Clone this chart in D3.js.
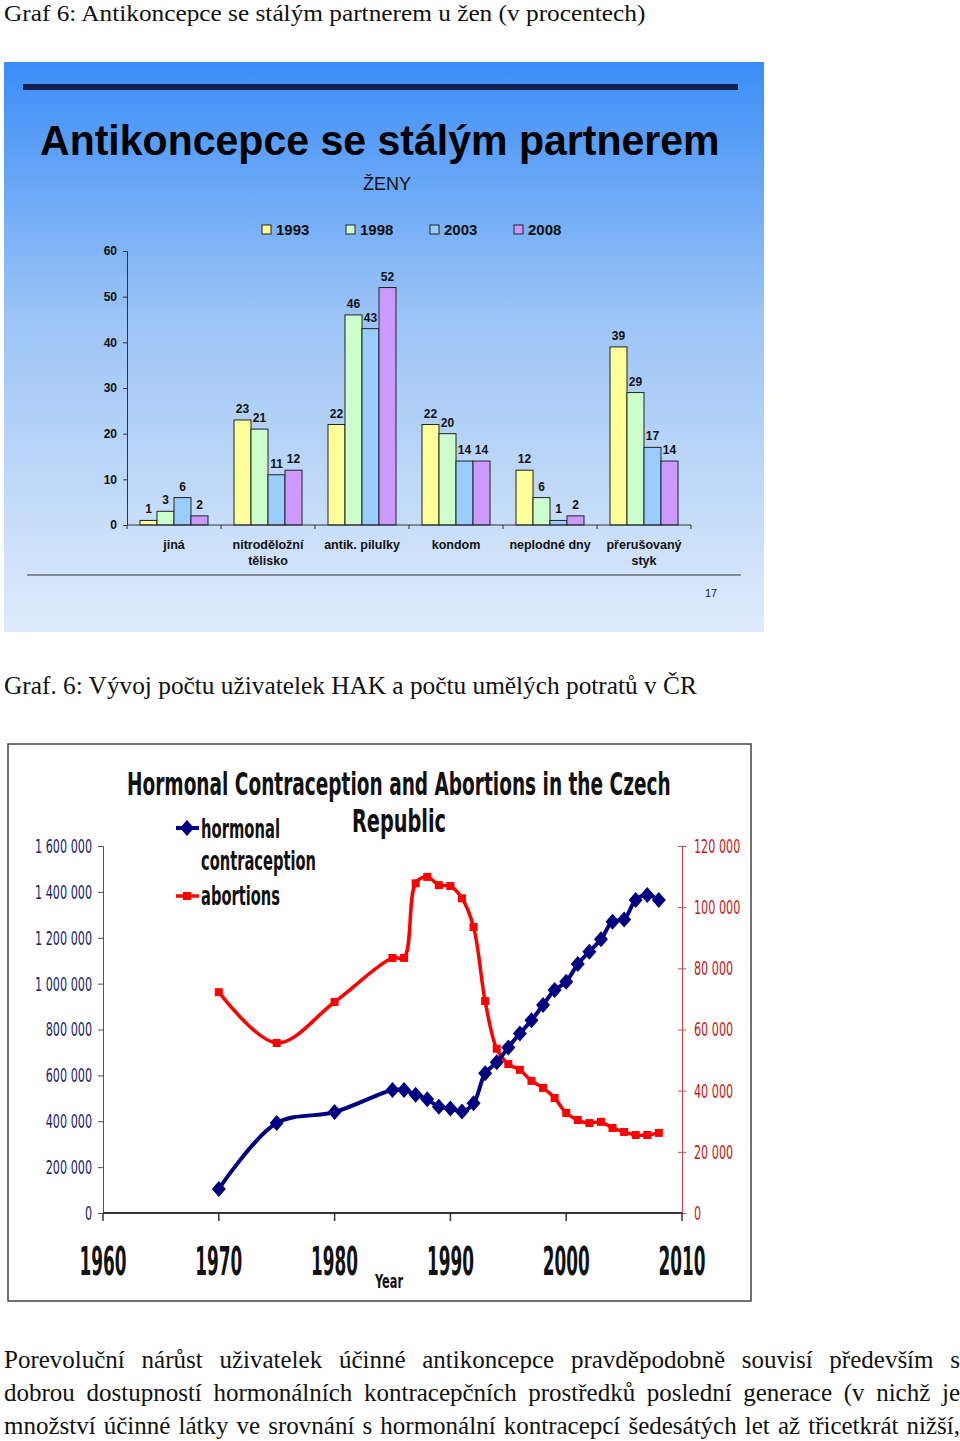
<!DOCTYPE html>
<html><head><meta charset="utf-8">
<script src="https://cdn.jsdelivr.net/npm/d3@7"></script>
<style>
body{margin:0;background:#fff;}
svg{display:block;}
</style></head><body>
<svg id="page" width="960" height="1441"></svg>
<script>
// ---------- Chart 1 data ----------
const categories = ["jiná","nitroděložní\ntělisko","antik. pilulky","kondom","neplodné dny","přerušovaný\nstyk"];
const surveyYears = ["1993","1998","2003","2008"];
const values1993 = [1,23,22,22,12,39];
const values1998 = [3,21,46,20,6,29];
const values2003 = [6,11,43,14,1,17];
const values2008 = [2,12,52,14,2,14];
const pctTicks = [0,10,20,30,40,50,60];
const barColors = ["#ffff99","#ccffcc","#99ccff","#cc99ff"];

// ---------- Chart 2 data ----------
const years = [1970,1975,1980,1985,1986,1987,1988,1989,1990,1991,1992,1993,1994,1995,1996,1997,1998,1999,2000,2001,2002,2003,2004,2005,2006,2007,2008];
const hormonal = [105000,392000,440000,536000,536000,515000,496000,463000,456000,442000,478000,609000,657000,722000,783000,840000,907000,972000,1008000,1086000,1139000,1193000,1270000,1280000,1365000,1386000,1365000];
const abortions = [72200,55600,69000,83400,83400,107800,109900,107200,106900,102900,93500,69300,53700,48700,46800,43200,40900,37600,32700,30400,29400,29800,27800,26500,25500,25500,26200];
const leftTicks = [0,200000,400000,600000,800000,1000000,1200000,1400000,1600000];
const rightTicks = [0,20000,40000,60000,80000,100000,120000];
const decadeTicks = [1960,1970,1980,1990,2000,2010];

const svg = d3.select("#page");
const defs = svg.append("defs");
const serif = "'Liberation Serif','Times New Roman',serif";
const sans = "'Liberation Sans',Arial,sans-serif";
const narrow = "'Liberation Sans Narrow','Arial Narrow','DejaVu Sans Condensed',sans-serif";
const fmtSpace = v => d3.format(",")(v).replace(/,/g, " ");

// text squeezed/stretched horizontally to a given width (keeps height from font size)
function fitText(parent, str, x, y, width, opts){
  const g = parent.append("g");
  const t = g.append("text").attr("x",0).attr("y",0)
    .attr("font-family",opts.family).attr("font-size",opts.size)
    .attr("font-weight",opts.weight||"normal").attr("fill",opts.fill||"#111").text(str);
  const w = t.node().getComputedTextLength();
  const sx = width / w;
  g.attr("transform",`translate(${x},${y}) scale(${sx},1)`);
  return t;
}

// ---------- page text ----------
fitText(svg,"Graf 6: Antikoncepce se stálým partnerem u žen (v procentech)",4,21,642,{family:serif,size:23.5});
fitText(svg,"Graf. 6: Vývoj počtu uživatelek HAK a počtu umělých potratů v ČR",4,694,693,{family:serif,size:25});

const para = [
 "Porevoluční nárůst uživatelek účinné antikoncepce pravděpodobně souvisí především s",
 "dobrou dostupností hormonálních kontracepčních prostředků poslední generace (v nichž je",
 "množství účinné látky ve srovnání s hormonální kontracepcí šedesátých let až třicetkrát nižší,"
];
para.forEach((line,i)=>{
  const t = svg.append("text").attr("x",4).attr("y",1368+i*33).attr("font-family",serif)
    .attr("font-size",25).attr("fill","#111").text(line);
  const nat = t.node().getComputedTextLength();
  const sp = (line.match(/ /g)||[]).length;
  const target = 956;
  if (nat < target) t.style("word-spacing", ((target-nat)/sp)+"px");
  else { t.remove(); fitText(svg,line,4,1368+i*33,target,{family:serif,size:25}); }
});

// ---------- Chart 1 ----------
const grad = defs.append("linearGradient").attr("id","bg1").attr("x1",0).attr("y1",0).attr("x2",0).attr("y2",1);
grad.append("stop").attr("offset",0).attr("stop-color","#3a8df7");
grad.append("stop").attr("offset",0.45).attr("stop-color","#9cc4f6");
grad.append("stop").attr("offset",1).attr("stop-color","#dfebfb");
const c1 = svg.append("g");
c1.append("rect").attr("x",4).attr("y",62).attr("width",760).attr("height",570).attr("fill","url(#bg1)");
c1.append("rect").attr("x",23).attr("y",84).attr("width",715).attr("height",6).attr("fill","#14214b");
fitText(c1,"Antikoncepce se stálým partnerem",40,155,680,{family:sans,size:43,weight:"bold",fill:"#000"});
c1.append("text").attr("x",387).attr("y",190).attr("text-anchor","middle").attr("font-family",sans)
  .attr("font-size",18).attr("fill","#111").text("ŽENY");

// legend
const leg1 = c1.append("g");
surveyYears.forEach((s,i)=>{
  const lx = 262 + i*84;
  leg1.append("rect").attr("x",lx).attr("y",225).attr("width",9).attr("height",9)
    .attr("fill",barColors[i]).attr("stroke","#222").attr("stroke-width",1);
  leg1.append("text").attr("x",lx+14).attr("y",235).attr("font-family",sans).attr("font-weight","bold")
    .attr("font-size",15).attr("fill","#111").text(s);
});

const x0 = d3.scaleBand().domain(categories).range([127,691]).padding(0);
const x1 = d3.scaleBand().domain(surveyYears).range([13, x0.bandwidth()-13]).padding(0);
const y1 = d3.scaleLinear().domain([0,60]).range([525,251]);

const yAx1 = c1.append("g").attr("transform","translate(127,0)")
  .call(d3.axisLeft(y1).tickValues(pctTicks).tickSize(4).tickPadding(6));
yAx1.select(".domain").attr("stroke","#333");
yAx1.selectAll(".tick line").attr("stroke","#333");
yAx1.selectAll(".tick text").attr("font-family",sans).attr("font-weight","bold").attr("font-size",12).attr("fill","#111");

const series = [values1993,values1998,values2003,values2008];
const barData = [];
categories.forEach((c,ci)=>surveyYears.forEach((s,si)=>barData.push({c,s,si,v:series[si][ci]})));

c1.append("g").selectAll("rect").data(barData).join("rect")
  .attr("x",d=>x0(d.c)+x1(d.s)).attr("width",x1.bandwidth())
  .attr("y",d=>y1(d.v)).attr("height",d=>y1(0)-y1(d.v))
  .attr("fill",d=>barColors[d.si]).attr("stroke","#222").attr("stroke-width",1);

c1.append("g").selectAll("text").data(barData).join("text")
  .attr("x",d=>x0(d.c)+x1(d.s)+x1.bandwidth()/2).attr("y",d=>y1(d.v)-7)
  .attr("text-anchor","middle").attr("font-family",sans).attr("font-weight","bold")
  .attr("font-size",12).attr("fill","#111").text(d=>d.v);

// x axis
c1.append("line").attr("x1",127).attr("x2",691).attr("y1",525).attr("y2",525).attr("stroke","#333");
const bounds = categories.map(c=>x0(c)).concat([x0.range()[1]]);
c1.append("g").selectAll("line").data(bounds).join("line")
  .attr("x1",d=>d).attr("x2",d=>d).attr("y1",525).attr("y2",529).attr("stroke","#333");
const catG = c1.append("g");
categories.forEach(c=>{
  const t = catG.append("text").attr("text-anchor","middle").attr("font-family",sans)
    .attr("font-weight","bold").attr("font-size",12.5).attr("fill","#111");
  c.split("\n").forEach((ln,i)=>{
    t.append("tspan").attr("x",x0(c)+x0.bandwidth()/2).attr("y",549+i*16).text(ln);
  });
});
c1.append("line").attr("x1",27).attr("x2",741).attr("y1",575).attr("y2",575).attr("stroke","#333").attr("stroke-width",1.2);
c1.append("text").attr("x",711).attr("y",597).attr("text-anchor","middle").attr("font-family",sans)
  .attr("font-size",11).attr("fill","#222").text("17");

// ---------- Chart 2 ----------
const c2 = svg.append("g");
c2.append("rect").attr("x",8).attr("y",744).attr("width",743).attr("height",557)
  .attr("fill","#fff").attr("stroke","#444").attr("stroke-width",1.5);

const xs = d3.scaleLinear().domain([1960,2010]).range([103,682]);
const yL = d3.scaleLinear().domain([0,1600000]).range([1213,846]);
const yR = d3.scaleLinear().domain([0,120000]).range([1213,846]);

// left axis
const axL = c2.append("g").attr("transform","translate(103,0)")
  .call(d3.axisLeft(yL).tickValues(leftTicks).tickSize(5).tickPadding(6).tickFormat(fmtSpace));
axL.select(".domain").attr("stroke","#4a4a8c");
axL.selectAll(".tick line").attr("stroke","#4a4a8c");
axL.selectAll(".tick text").attr("font-family",narrow).attr("font-size",20).attr("fill","#1c1c6a");

// right axis
const axR = c2.append("g").attr("transform","translate(682,0)")
  .call(d3.axisRight(yR).tickValues(rightTicks).tickSizeInner(4).tickSizeOuter(0).tickPadding(8).tickFormat(fmtSpace));
axR.select(".domain").attr("stroke","#c84848");
axR.selectAll(".tick line").attr("stroke","#c84848").attr("x1",-4);
axR.selectAll(".tick text").attr("font-family",narrow).attr("font-size",20).attr("fill","#c41a1a");

// compress tick labels horizontally (narrow look)
(function(){
  const ref = axL.selectAll(".tick text").filter(d=>d===1600000).node();
  const sx = 57/ref.getComputedTextLength();
  [axL,axR].forEach(a=>a.selectAll(".tick text").each(function(){
    const t = d3.select(this);
    const x = +t.attr("x");
    t.attr("x", x/sx).attr("transform",`scale(${sx},1)`);
  }));
})();

// x axis
c2.append("line").attr("x1",xs(1960)).attr("x2",xs(2010)).attr("y1",1213).attr("y2",1213)
  .attr("stroke","#333").attr("stroke-width",2);
c2.append("g").selectAll("line").data(decadeTicks).join("line")
  .attr("x1",d=>xs(d)).attr("x2",d=>xs(d)).attr("y1",1213).attr("y2",1221).attr("stroke","#333").attr("stroke-width",1.5);
const yrG = c2.append("g");
decadeTicks.forEach(d=>{
  const g = yrG.append("g").attr("transform",`translate(${xs(d)},1275) scale(1,1.5)`);
  const t = g.append("text").attr("text-anchor","middle").attr("font-family",narrow).attr("font-weight","bold")
    .attr("font-size",26).attr("fill","#111").text(d);
  const w = t.node().getComputedTextLength();
  g.attr("transform",`translate(${xs(d)},1275) scale(${47/w},1.5)`);
});
fitText(c2,"Year",375,1288,28,{family:narrow,size:20,weight:"bold"});

// lines
const hData = years.map((y,i)=>({y,v:hormonal[i]}));
const aData = years.map((y,i)=>({y,v:abortions[i]}));
const curve = d3.curveCatmullRom.alpha(0.5);
c2.append("path").datum(aData).attr("fill","none").attr("stroke","#ff0000").attr("stroke-width",3.5)
  .attr("d",d3.line().x(d=>xs(d.y)).y(d=>yR(d.v)).curve(curve));
c2.append("path").datum(hData).attr("fill","none").attr("stroke","#000080").attr("stroke-width",4)
  .attr("d",d3.line().x(d=>xs(d.y)).y(d=>yL(d.v)).curve(curve));
c2.append("g").selectAll("rect").data(aData).join("rect")
  .attr("x",d=>xs(d.y)-4).attr("y",d=>yR(d.v)-4).attr("width",8).attr("height",8).attr("fill","#ff0000");
const diamond = "M0,-8L7,0L0,8L-7,0Z";
c2.append("g").selectAll("path").data(hData).join("path")
  .attr("transform",d=>`translate(${xs(d.y)},${yL(d.v)})`).attr("d",diamond).attr("fill","#000080");

// title
fitText(c2,"Hormonal Contraception and Abortions in the Czech",127,795,544,{family:narrow,size:32,weight:"bold"});
fitText(c2,"Republic",352,832,94,{family:narrow,size:32,weight:"bold"});

// legend
const lg = c2.append("g");
lg.append("line").attr("x1",176).attr("x2",199).attr("y1",828).attr("y2",828).attr("stroke","#000080").attr("stroke-width",4);
lg.append("path").attr("transform","translate(187,828)").attr("d",diamond).attr("fill","#000080");
lg.append("line").attr("x1",176).attr("x2",199).attr("y1",896).attr("y2",896).attr("stroke","#ff0000").attr("stroke-width",3.5);
lg.append("rect").attr("x",183).attr("y",892).attr("width",8).attr("height",8).attr("fill","#ff0000");
[["hormonal",838,79],["contraception",870,115],["abortions",905,79]].forEach(([t,yy,w])=>{
  fitText(lg,t,201,yy,w,{family:narrow,size:26,weight:"bold"});
});
</script>
</body></html>
